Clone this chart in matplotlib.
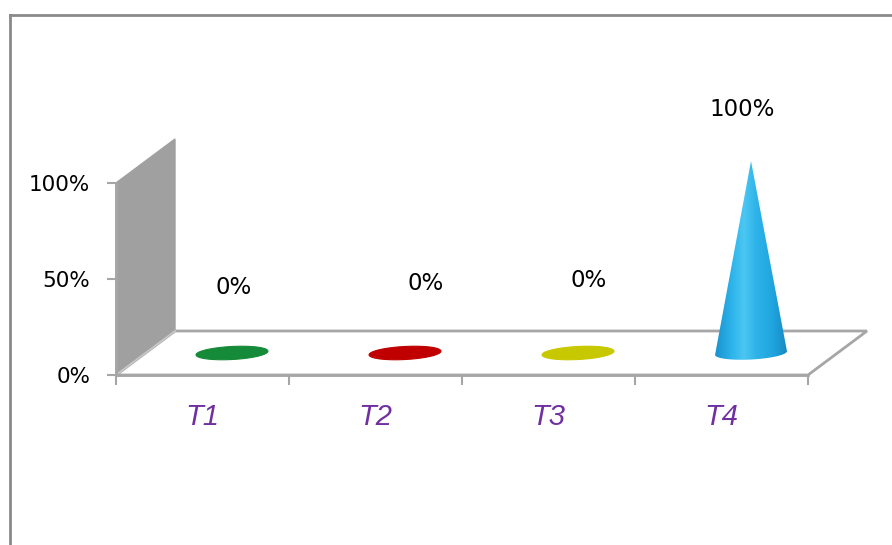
import numpy as np
import matplotlib
matplotlib.use("Agg")
import matplotlib.pyplot as plt
from matplotlib.patches import Polygon, PathPatch
from matplotlib.path import Path
from matplotlib.colors import LinearSegmentedColormap
from matplotlib.lines import Line2D

categories = ["T1", "T2", "T3", "T4"]
values = [0.0, 0.0, 0.0, 1.0]
value_labels = ["0%", "0%", "0%", "100%"]
cone_colors = ["#158a38", "#c00000", "#c8c800", "#1ea8e2"]
y_ticks = [0.0, 0.5, 1.0]
y_tick_labels = ["0%", "50%", "100%"]

# label nudges (x in categories, y in value units) relative to the cone base centre
label_dx = [0.01, 0.12, 0.06, -0.05]
label_dy = [0.34, 0.36, 0.38, 0.27]

W, H, DPI = 892, 545, 100
fig = plt.figure(figsize=(W / DPI, H / DPI), dpi=DPI)
ax = fig.add_axes([0, 0, 1, 1])

# front plane of the plot in pixels
x0_px, x4_px = 116, 808
y0_px, y1_px = 375, 183          # rows of 0 % and 100 %
sx = (x4_px - x0_px) / len(categories)   # pixels per category
sy = y0_px - y1_px                       # pixels per 100 %

# depth of the 3-D box, in data units
DX = 59 / sx
DY = 44 / sy

grid = "#a6a6a6"

# side wall
wall = Polygon([(0, 0), (0, 1), (DX, 1 + DY), (DX, DY)], closed=True,
               facecolor="#a0a0a0", edgecolor="#a0a0a0", lw=1, zorder=1)
ax.add_patch(wall)

# floor
n = len(categories)
floor = Polygon([(0, 0), (n, 0), (n + DX, DY), (DX, DY)], closed=True,
                facecolor="white", edgecolor=grid, lw=2, zorder=1)
ax.add_patch(floor)
ax.plot([0, DX], [0, DY], color="#c8c8c8", lw=1.2, zorder=2)

# cone base ellipses (pixel sizes), slightly tilted by the perspective
a_px, b_px, tilt = 36.0, 6.5, np.deg2rad(3)


def ellipse_pts(cx, cy, t0, t1, num=120):
    t = np.linspace(t0, t1, num)
    px = a_px * np.cos(t) * np.cos(tilt) - b_px * np.sin(t) * np.sin(tilt)
    py = a_px * np.cos(t) * np.sin(tilt) + b_px * np.sin(t) * np.cos(tilt)
    return np.column_stack([cx + px / sx, cy + py / sy])


cone_cmap = LinearSegmentedColormap.from_list(
    "cone", [(0.0, "#1a92cf"), (0.25, "#2fb6ec"), (0.4, "#4cc6f2"),
             (0.58, "#2db3e9"), (0.82, "#1fa3dd"), (1.0, "#1688c2")])

for i, (v, c) in enumerate(zip(values, cone_colors)):
    cx = i + 0.5 + DX / 2
    cy = DY / 2
    if v <= 0:
        pts = ellipse_pts(cx, cy, 0, 2 * np.pi)
        ax.add_patch(Polygon(pts, closed=True, facecolor=c, edgecolor=c,
                             lw=0.8, zorder=3))
    else:
        lower = ellipse_pts(cx, cy, np.pi, 2 * np.pi)
        verts = np.vstack([lower, [[cx, cy + v]], lower[:1]])
        codes = [Path.MOVETO] + [Path.LINETO] * (len(verts) - 2) + [Path.CLOSEPOLY]
        cone = PathPatch(Path(verts, codes), facecolor="none",
                         edgecolor="none", zorder=3)
        ax.add_patch(cone)
        grad = np.linspace(0, 1, 256)[None, :]
        im = ax.imshow(grad, cmap=cone_cmap, aspect="auto", zorder=3,
                       extent=[cx - a_px / sx, cx + a_px / sx,
                               cy - 10 / sy, cy + v + 0.01],
                       interpolation="bilinear")
        im.set_clip_path(cone)
    ax.text(cx + label_dx[i], v + cy + label_dy[i], value_labels[i],
            ha="center", va="center", fontsize=16.5, color="black",
            family="DejaVu Sans", zorder=5)

# axes: spines on the front plane
for side in ("top", "right"):
    ax.spines[side].set_visible(False)
ax.spines["left"].set_position(("data", 0))
ax.spines["left"].set_bounds(0, 1)
ax.spines["bottom"].set_position(("data", 0))
ax.spines["bottom"].set_bounds(0, n)
for side in ("left", "bottom"):
    ax.spines[side].set_color(grid)
    ax.spines[side].set_linewidth(2)
    ax.spines[side].set_zorder(4)

ax.set_yticks(y_ticks, y_tick_labels)
ax.tick_params(axis="y", direction="out", length=6.5, width=1.5, color=grid,
               pad=12, labelsize=15.5, labelcolor="black")
ax.set_xticks(np.arange(n + 1), [""] * (n + 1))
ax.set_xticks(np.arange(n) + 0.5, categories, minor=True)
ax.tick_params(axis="x", which="major", direction="out", length=7,
               width=1.5, color=grid)
ax.tick_params(axis="x", which="minor", length=0, pad=20)
for lbl in ax.get_xticklabels(minor=True):
    lbl.set_fontfamily("Liberation Sans")
    lbl.set_fontstyle("italic")
    lbl.set_fontsize(21)
    lbl.set_color("#7030a0")

ax.set_xlim(-x0_px / sx, (W - x0_px) / sx)
ax.set_ylim(-(H - y0_px) / sy, y0_px / sy)
ax.set_facecolor("white")

# chart frame
fx, fy = 9.5 / W, 1 - 14.5 / H
fig.add_artist(Line2D([fx, 1], [fy, fy], transform=fig.transFigure,
                      color="#8a8a8a", lw=2))
fig.add_artist(Line2D([fx, fx], [0, fy], transform=fig.transFigure,
                      color="#8a8a8a", lw=2))

fig.savefig("out.png", dpi=DPI, facecolor="white")
